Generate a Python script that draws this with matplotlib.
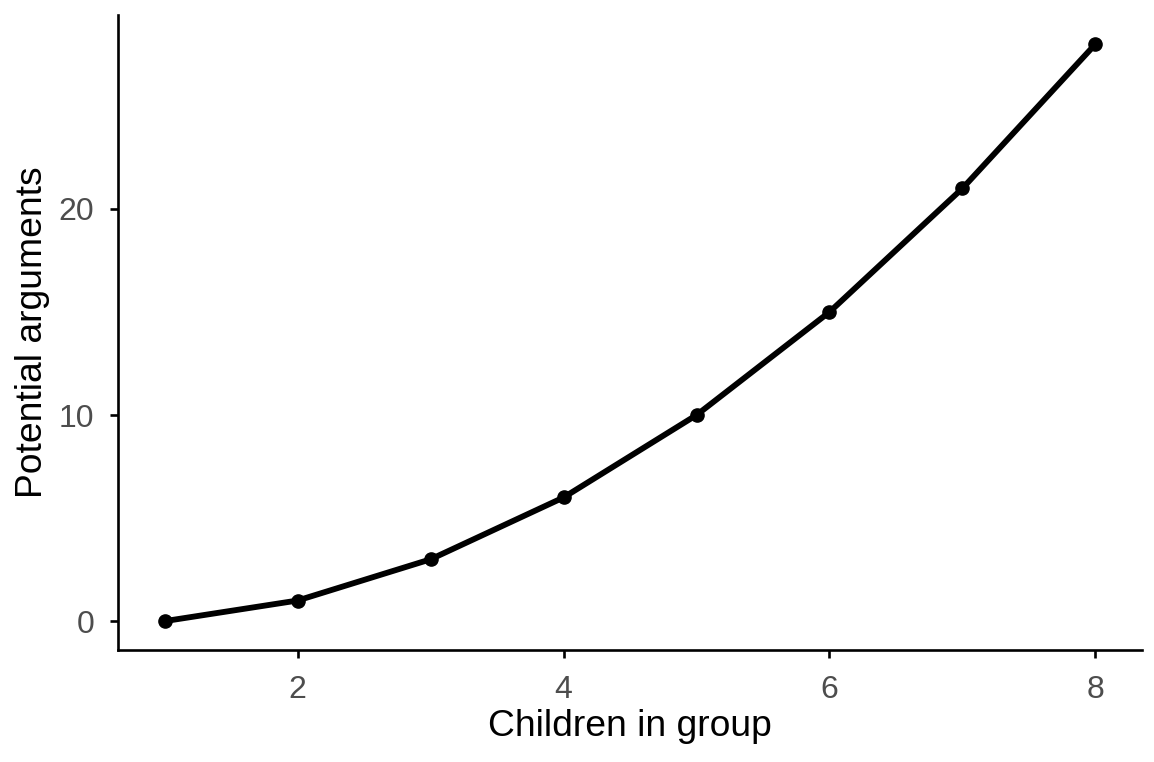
import matplotlib
matplotlib.use("Agg")
import matplotlib.pyplot as plt

# data
children = [1, 2, 3, 4, 5, 6, 7, 8]
arguments = [0, 1, 3, 6, 10, 15, 21, 28]

plt.rcParams['font.family'] = ['Liberation Sans', 'DejaVu Sans']

fig = plt.figure(figsize=(11.54, 7.62), dpi=100)
ax = fig.add_axes([0.1023, 0.147, 0.8873, 0.833])

ax.plot(children, arguments, color='black', linewidth=4.2, solid_capstyle='butt',
        marker='o', markersize=9.5, zorder=3)

ax.set_xlim(0.65, 8.35)
ax.set_ylim(-1.4, 29.4)
ax.set_xticks([2, 4, 6, 8])
ax.set_yticks([0, 10, 20])

for side in ['top', 'right']:
    ax.spines[side].set_visible(False)
for side in ['left', 'bottom']:
    ax.spines[side].set_linewidth(1.9)

ax.tick_params(axis='both', length=5.8, width=1.9, color='black',
               labelsize=23, labelcolor='#4D4D4D')
ax.tick_params(axis='x', pad=12)
ax.tick_params(axis='y', pad=11.5)

ax.set_xlabel('Children in group', fontsize=26.8, labelpad=3)
ax.set_ylabel('Potential arguments', fontsize=26.8, labelpad=6)

fig.savefig('out.png', dpi=100)
